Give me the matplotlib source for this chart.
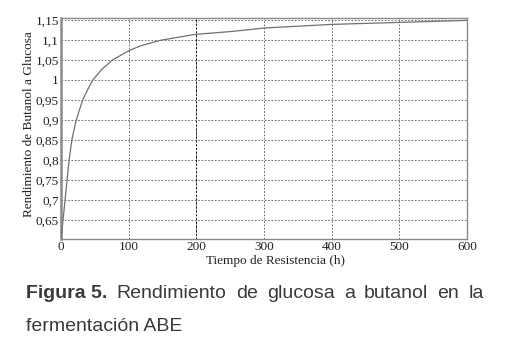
import matplotlib
matplotlib.use("Agg")
import matplotlib.pyplot as plt

# Data
tiempo = [0, 1.5, 3, 6, 9, 12, 16, 22.5, 32, 40, 47, 60, 76, 100, 117, 146, 198, 250, 279, 300, 400, 500, 600]
rendimiento = [0.603, 0.625, 0.65, 0.70, 0.75, 0.80, 0.85, 0.90, 0.95, 0.978, 1.0, 1.026, 1.05, 1.073,
               1.085, 1.099, 1.114, 1.121, 1.126, 1.130, 1.139, 1.144, 1.149]

xticks = [0, 100, 200, 300, 400, 500, 600]
yticks = [0.65, 0.7, 0.75, 0.8, 0.85, 0.9, 0.95, 1.0, 1.05, 1.1, 1.15]
ytick_labels = ["0,65", "0,7", "0,75", "0,8", "0,85", "0,9", "0,95", "1", "1,05", "1,1", "1,15"]

xlabel = "Tiempo de Resistencia (h)"
ylabel = "Rendimiento de Butanol a Glucosa"
caption_bold = "Figura 5."
caption_line1 = "Rendimiento de glucosa a butanol en la"
caption_line2 = "fermentación ABE"

W, H = 505, 344
fig = plt.figure(figsize=(W / 100, H / 100), dpi=100)
ax = fig.add_axes([61 / W, 1 - 239 / H, (467 - 61) / W, (239 - 18) / H])

ax.plot(tiempo, rendimiento, color="#707070", lw=0.9, zorder=3)
ax.set_xlim(0, 600)
ax.set_ylim(0.6025, 1.155)
ax.set_xticks(xticks)
ax.set_xticklabels([str(t) for t in xticks])
ax.set_yticks(yticks)
ax.set_yticklabels(ytick_labels)

serif = "Liberation Serif"
for lab in ax.get_xticklabels() + ax.get_yticklabels():
    lab.set_fontfamily(serif)
    lab.set_fontsize(9.5)
    lab.set_color("#222222")
ax.tick_params(axis="both", direction="in", length=0, pad=1.5)
ax.set_xlabel(xlabel, fontfamily=serif, fontsize=9.5, color="#222222")
ax.set_ylabel(ylabel, fontfamily=serif, fontsize=9.5, color="#222222")
ax.xaxis.set_label_coords((276 - 61) / 406, -0.072)
ax.yaxis.set_label_coords(-0.063, (239 - 124) / 221)

ax.grid(True, color="#555555", lw=0.6, linestyle=(0, (2, 2)))
ax.axvline(xticks[2], color="#111111", lw=0.7, linestyle=(0, (2, 2)), zorder=2)
for s in ax.spines.values():
    s.set_color("#8a8a8a")
    s.set_linewidth(1.0)
ax.spines["left"].set_linewidth(1.8)

# Caption (justified first line)
cap_color = "#3a3a3a"
fs = 14
x0, x1 = 26 / W, 484 / W
y1 = 1 - 298 / H
y2 = 1 - 331 / H
fig.canvas.draw()
renderer = fig.canvas.get_renderer()
words = [(caption_bold, "bold")] + [(w, "normal") for w in caption_line1.split()]
texts = []
widths = []
for w, wt in words:
    t = fig.text(0, y1, w, fontsize=fs, fontweight=wt, family="Liberation Sans", color=cap_color, va="baseline")
    bb = t.get_window_extent(renderer)
    texts.append(t)
    widths.append(bb.width / W)
gap = (x1 - x0 - sum(widths)) / (len(words) - 1)
pos = x0
for t, wd in zip(texts, widths):
    t.set_x(pos)
    pos += wd + gap
fig.text(x0, y2, caption_line2, fontsize=fs, family="Liberation Sans", color=cap_color, va="baseline")

fig.savefig("out.png", dpi=100)
